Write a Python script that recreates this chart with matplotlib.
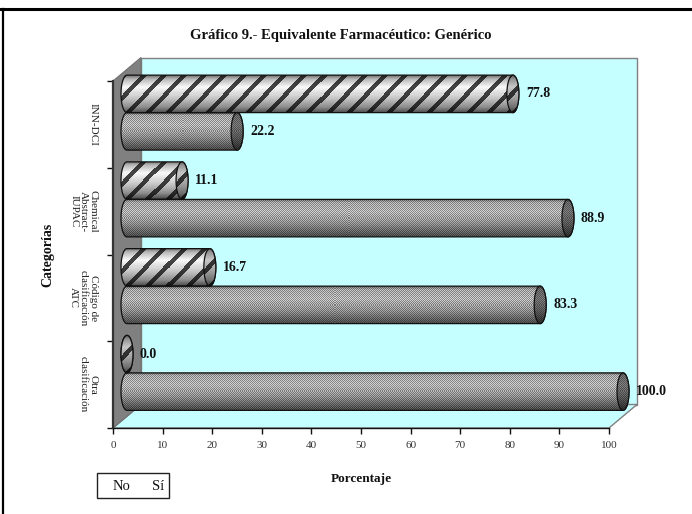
import numpy as np
import matplotlib
matplotlib.use("Agg")
import matplotlib.pyplot as plt
from matplotlib.patches import Polygon, Rectangle
from matplotlib.lines import Line2D

categories = ["Otra\nclasificación", "Código de\nclasificación\nATC", "Chemical\nAbstract-\nIUPAC", "INN-DCI"]
no_values = [100.0, 83.3, 88.9, 22.2]
si_values = [0.0, 16.7, 11.1, 77.8]
x_ticks = list(range(0, 101, 10))

W, H = 692, 514
LEFT, RIGHT, TOP, BOTTOM = 113, 609, 81, 428
XU = 100 / (RIGHT - LEFT)   # data units per pixel
YU = 4 / (BOTTOM - TOP)
DEPTH_X, DEPTH_Y = 28 * XU, 23.5 * YU
BAR_H = 37.5 * YU
CAP_W = 12 * XU

plt.rcParams['font.family'] = ['Liberation Serif', 'DejaVu Serif']

fig = plt.figure(figsize=(W / 100, H / 100), dpi=100)
ax = fig.add_axes([LEFT / W, 1 - BOTTOM / H, (RIGHT - LEFT) / W, (BOTTOM - TOP) / H])
ax.patch.set_visible(False)


def texture(w, h, kind, dark=1.0):
    # one bar surface, drawn at pixel size
    yy, xx = np.mgrid[0:h, 0:w]
    t = yy / max(h - 1, 1)
    if kind == "no":
        shade = np.interp(t, [0, .08, .35, .65, 1], [.42, .68, .74, .58, .3])
        dots = ((xx + yy) % 2 == 0) * 1.0
        img = shade * (0.72 + 0.42 * dots)
    else:
        shade = np.interp(t, [0, .1, .32, .6, .85, 1], [.45, .72, .98, .78, .55, .3])
        stripe = ((xx + yy) % 20) < 6
        img = np.where(stripe, shade * 0.28, shade)
    img = np.clip(img * dark, 0, 1)
    return np.dstack([img, img, img])


def ellipse_pts(cx, cy, a1, a2):
    a = np.radians(np.linspace(a1, a2, 40))
    return np.c_[cx + CAP_W / 2 * np.cos(a), cy + BAR_H / 2 * np.sin(a)]


def draw_cylinder(value, yc, kind):
    x0 = DEPTH_X / 2
    x1 = value + DEPTH_X / 2
    body = np.vstack([ellipse_pts(x0, yc, 90, 270), ellipse_pts(x1, yc, -90, 90)])
    patch = Polygon(body, closed=True, fc="none", ec="#111111", lw=0.9, zorder=3.2, clip_on=False)
    ax.add_patch(patch)
    w = int((x1 - x0 + CAP_W) / XU)
    h = int(BAR_H / YU)
    im = ax.imshow(texture(w, h, kind), extent=(x0 - CAP_W / 2, x1 + CAP_W / 2, yc - BAR_H / 2, yc + BAR_H / 2),
                   aspect="auto", interpolation="nearest", zorder=3)
    im.set_clip_box(fig.bbox)
    im.set_clip_path(patch)
    # end cap
    cap = Polygon(ellipse_pts(x1, yc, 0, 360), closed=True, fc="none", ec="#111111", lw=0.9,
                  zorder=3.4, clip_on=False)
    ax.add_patch(cap)
    im2 = ax.imshow(texture(12, h, kind, dark=0.62 if kind == "no" else 0.8),
                    extent=(x1 - CAP_W / 2, x1 + CAP_W / 2, yc - BAR_H / 2, yc + BAR_H / 2),
                    aspect="auto", interpolation="nearest", zorder=3.3)
    im2.set_clip_box(fig.bbox)
    im2.set_clip_path(cap)


# walls and floor
wall_c = "#C6FFFF"
ax.add_patch(Rectangle((DEPTH_X, DEPTH_Y), 100, 4, fc=wall_c, ec="#808080", lw=1, zorder=1, clip_on=False))
ax.add_patch(Polygon([(0, 0), (100, 0), (100 + DEPTH_X, DEPTH_Y), (DEPTH_X, DEPTH_Y)], closed=True,
                     fc=wall_c, ec="#808080", lw=1, zorder=1.1, clip_on=False))
ax.add_patch(Polygon([(0, 0), (0, 4), (DEPTH_X, 4 + DEPTH_Y), (DEPTH_X, DEPTH_Y)], closed=True,
                     fc="#808080", ec="#707070", lw=0.8, zorder=1.2, clip_on=False))

# bars, bottom group first
for i, (n, s) in enumerate(zip(no_values, si_values)):
    yc = i + 0.5 + DEPTH_Y / 2
    ny, sy = yc - BAR_H / 2, yc + BAR_H / 2
    draw_cylinder(n, ny, "no")
    draw_cylinder(s, sy, "si")
    ax.text(n + DEPTH_X / 2 + CAP_W / 2 + 7 * XU, ny, f"{n:.1f}", fontsize=10, fontweight="bold",
            ha="left", va="center", color="#111111", zorder=5, clip_on=False)
    ax.text(s + DEPTH_X / 2 + CAP_W / 2 + 7 * XU, sy, f"{s:.1f}", fontsize=10, fontweight="bold",
            ha="left", va="center", color="#111111", zorder=5, clip_on=False)

ax.set_xlim(0, 100)
ax.set_ylim(0, 4)
ax.set_xticks(x_ticks)
ax.set_yticks(range(5))
ax.set_yticklabels([])
ax.set_yticks([i + 0.5 for i in range(4)], minor=True)
ax.set_yticklabels(categories, minor=True, rotation=-90, va="center", ha="right",
                   multialignment="center", fontsize=8, linespacing=1.1, color="#222222")
ax.tick_params(axis="x", length=4.5, width=1, color="#111111", labelsize=8, labelcolor="#333333", pad=5)
ax.tick_params(axis="y", which="major", length=4.5, width=1, color="#111111")
ax.tick_params(axis="y", which="minor", length=0, pad=11)
for side in ("top", "right"):
    ax.spines[side].set_visible(False)
ax.spines["left"].set_linewidth(1.6)
ax.spines["left"].set_color("#333333")
ax.spines["left"].set_zorder(2)
ax.spines["bottom"].set_linewidth(1)
ax.spines["bottom"].set_color("#111111")


def fx(px):
    return px / W


def fy(py):
    return 1 - py / H


# titles
fig.text(fx(341), fy(36), "Gráfico 9.- Equivalente Farmacéutico: Genérico", fontsize=10.5, fontweight="bold",
         ha="center", va="center", color="#111111")
fig.text(fx(361), fy(479), "Porcentaje", fontsize=9.5, fontweight="bold", ha="center", va="center", color="#111111")
fig.text(fx(48), fy(255), "Categorías", fontsize=10, fontweight="bold", rotation=90, ha="center", va="center",
         color="#111111")

# legend box
fig.add_artist(Rectangle((fx(96.5), fy(497.5)), 72.5 / W, 24.5 / H, transform=fig.transFigure, fc="white",
                         ec="#222222", lw=1))
leg = fig.add_axes([fx(101), fy(490), 9 / W, 9 / H])
leg.imshow(texture(9, 9, "no"), interpolation="nearest", aspect="auto")
leg.set_xticks([])
leg.set_yticks([])
for sp in leg.spines.values():
    sp.set_linewidth(0.8)
leg2 = fig.add_axes([fx(140), fy(490), 9 / W, 9 / H])
leg2.imshow(np.fliplr(np.tril(np.ones((9, 9))))[::1], cmap="gray_r", interpolation="nearest", aspect="auto")
leg2.set_xticks([])
leg2.set_yticks([])
for sp in leg2.spines.values():
    sp.set_linewidth(0.8)
fig.text(fx(113), fy(486), "No", fontsize=10.5, ha="left", va="center", color="#111111")
fig.text(fx(152), fy(486), "Sí", fontsize=10.5, ha="left", va="center", color="#111111")

# page frame
fig.add_artist(Line2D([0, 1], [fy(8.5), fy(8.5)], color="black", lw=2.2))
fig.add_artist(Line2D([fx(3), fx(3)], [fy(8.5), 0], color="black", lw=1.6))

fig.savefig("out.png", dpi=100)
